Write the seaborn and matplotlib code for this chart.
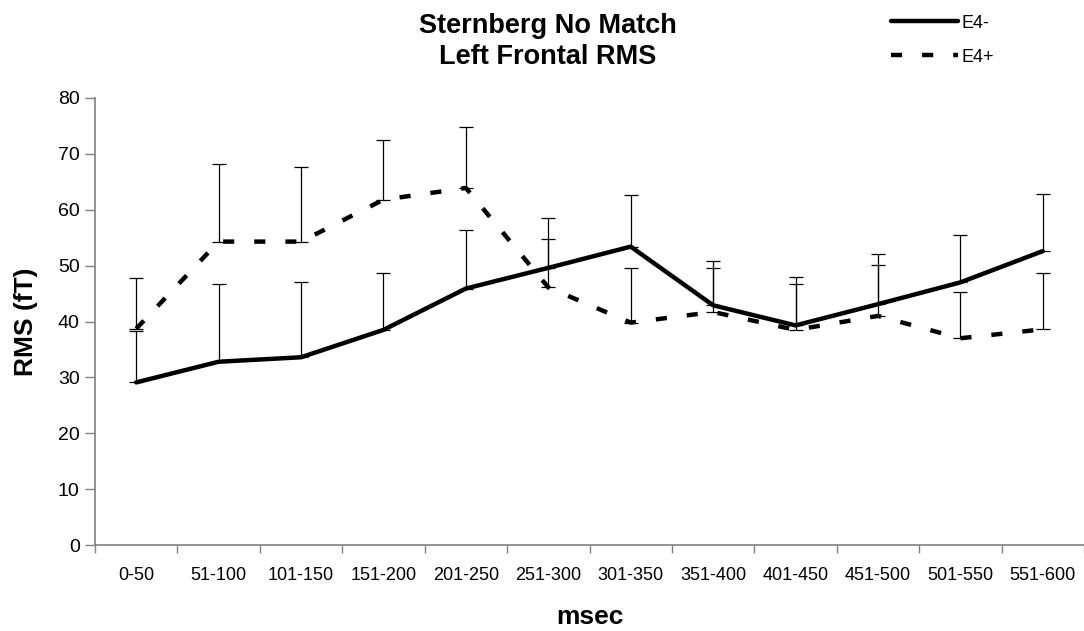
import matplotlib
matplotlib.use("Agg")
import matplotlib.pyplot as plt
from matplotlib.lines import Line2D
import seaborn as sns
import pandas as pd
import numpy as np

categories = ['0-50', '51-100', '101-150', '151-200', '201-250', '251-300',
              '301-350', '351-400', '401-450', '451-500', '501-550', '551-600']
e4_minus = [29.1, 32.8, 33.6, 38.5, 45.9, 49.6, 53.4, 42.9, 39.3, 43.1, 47.0, 52.6]
e4_minus_err = [9.2, 14.0, 13.5, 10.2, 10.5, 9.0, 9.3, 7.9, 8.6, 8.9, 8.4, 10.3]
e4_plus = [38.7, 54.3, 54.3, 61.8, 63.9, 46.1, 39.8, 41.7, 38.5, 41.0, 37.0, 38.6]
e4_plus_err = [9.0, 13.8, 13.4, 10.6, 10.9, 8.7, 9.7, 7.8, 8.3, 9.2, 8.3, 10.0]
y_ticks = [0, 10, 20, 30, 40, 50, 60, 70, 80]

sns.set_theme(style="white")
plt.rcParams['font.family'] = ['Liberation Sans', 'DejaVu Sans']
for k in ['text.color', 'axes.labelcolor', 'xtick.color', 'ytick.color']:
    plt.rcParams[k] = 'black'

fig = plt.figure(figsize=(10.84, 6.31), dpi=100)
ax = fig.add_axes([95/1084, 1 - 545/631, 1 - 95/1084, (545 - 98)/631])

x = np.arange(len(categories))
df = pd.DataFrame({
    'x': np.concatenate([x, x]),
    'RMS': e4_minus + e4_plus,
    'group': ['E4-'] * len(x) + ['E4+'] * len(x),
})

# error bars (upward only)
ax.errorbar(x, e4_minus, yerr=[np.zeros(len(x)), e4_minus_err], fmt='none',
            ecolor='black', elinewidth=0.9, capsize=4.7, capthick=0.9, zorder=1)
ax.errorbar(x, e4_plus, yerr=[np.zeros(len(x)), e4_plus_err], fmt='none',
            ecolor='black', elinewidth=0.9, capsize=4.7, capthick=0.9, zorder=1)

dash = (0, (2.5, 4.5))
sns.lineplot(data=df[df.group == 'E4-'], x='x', y='RMS', color='black',
             linewidth=3.2, ax=ax, legend=False, zorder=3)
sns.lineplot(data=df[df.group == 'E4+'], x='x', y='RMS', color='black',
             linewidth=3.2, ax=ax, legend=False, zorder=3)
ax.lines[-1].set_linestyle(dash)

ax.set_xlim(-0.5, len(categories) - 0.5)
ax.set_ylim(0, 80)
ax.set_yticks(y_ticks)
ax.set_xticks(x)
ax.set_xticklabels(categories, fontsize=13)
ax.set_xticks(np.arange(-0.5, len(categories), 1.0), minor=True)
ax.tick_params(axis='x', which='major', length=0, pad=16)
ax.tick_params(axis='x', which='minor', length=6, width=1, color='#808080',
               direction='out', bottom=True)
ax.tick_params(axis='y', length=7, width=1, color='#808080', direction='out',
               left=True, labelsize=14, pad=4)

for s in ['top', 'right']:
    ax.spines[s].set_visible(False)
for s in ['left', 'bottom']:
    ax.spines[s].set_color('#808080')
    ax.spines[s].set_linewidth(1.2)

ax.set_xlabel('msec', fontsize=19, fontweight='bold', labelpad=15)
ax.set_ylabel('RMS (fT)', fontsize=19, fontweight='bold', labelpad=14)
ax.grid(False)

fig.text(0.505, 0.980, 'Sternberg No Match\nLeft Frontal RMS', ha='center', va='top',
         fontsize=19.5, fontweight='bold', linespacing=1.25)

handles = [Line2D([0], [0], color='black', lw=3.2),
           Line2D([0], [0], color='black', lw=3.2, linestyle=dash)]
fig.legend(handles, ['E4-', 'E4+'], loc='upper left', bbox_to_anchor=(0.822, 0.977),
           frameon=False, fontsize=13, handlelength=3.7, handletextpad=0.2,
           labelspacing=0.95, borderpad=0, borderaxespad=0)

fig.savefig('out.png', dpi=100)
